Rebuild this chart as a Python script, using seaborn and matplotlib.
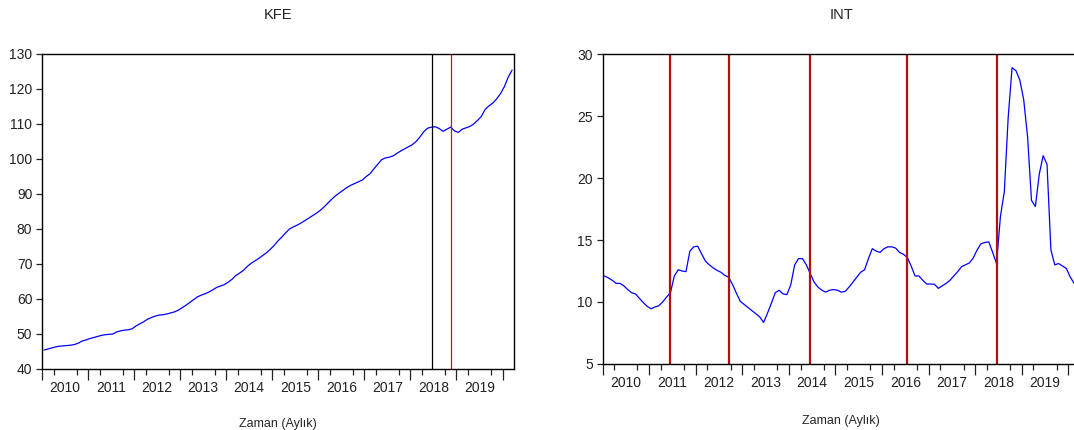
import numpy as np
import pandas as pd
import matplotlib
matplotlib.use('Agg')
import matplotlib.pyplot as plt
import seaborn as sns

# aylık veriler: 2010-01 .. 2020-03
kfe = [45.4, 45.7, 46.0, 46.3, 46.5, 46.6, 46.7, 46.8, 47.0, 47.4, 48.0, 48.3,
       48.7, 49.0, 49.3, 49.6, 49.8, 49.9, 50.0, 50.6, 50.9, 51.1, 51.2, 51.5,
       52.3, 52.9, 53.5, 54.2, 54.7, 55.1, 55.4, 55.5, 55.7, 56.0, 56.3, 56.8,
       57.5, 58.2, 59.0, 59.8, 60.6, 61.1, 61.5, 62.0, 62.6, 63.3, 63.7, 64.1,
       64.8, 65.6, 66.7, 67.4, 68.2, 69.3, 70.2, 70.9, 71.6, 72.4, 73.2, 74.2,
       75.3, 76.6, 77.7, 78.9, 80.0, 80.6, 81.1, 81.7, 82.4, 83.1, 83.8, 84.5,
       85.3, 86.3, 87.4, 88.5, 89.5, 90.3, 91.1, 91.9, 92.5, 93.0, 93.5, 94.0,
       95.0, 95.8, 97.2, 98.5, 99.8, 100.3, 100.5, 100.9, 101.6, 102.3, 102.9, 103.5,
       104.1, 105.0, 106.3, 107.8, 108.8, 109.1, 109.2, 108.7, 107.9, 108.5, 109.1, 108.0,
       107.6, 108.5, 108.9, 109.3, 110.0, 111.0, 112.2, 114.2, 115.2, 116.0, 117.2, 118.7,
       120.7, 123.4, 125.4]

faiz = [12.1, 11.95, 11.75, 11.5, 11.5, 11.3, 11.0, 10.75, 10.65, 10.3, 9.95, 9.65,
        9.45, 9.6, 9.7, 10.0, 10.4, 10.75, 12.1, 12.6, 12.5, 12.45, 14.1, 14.45,
        14.5, 13.9, 13.3, 13.0, 12.75, 12.55, 12.4, 12.15, 12.0, 11.4, 10.7, 10.05,
        9.8, 9.55, 9.3, 9.05, 8.8, 8.35, 9.1, 9.9, 10.75, 10.95, 10.65, 10.6,
        11.4, 13.0, 13.5, 13.5, 13.0, 12.3, 11.6, 11.2, 10.95, 10.8, 10.95, 11.0,
        10.95, 10.8, 10.85, 11.2, 11.6, 12.0, 12.4, 12.6, 13.5, 14.3, 14.1, 14.0,
        14.3, 14.45, 14.45, 14.35, 14.0, 13.85, 13.6, 12.9, 12.1, 12.1, 11.75, 11.45,
        11.45, 11.43, 11.1, 11.3, 11.5, 11.75, 12.1, 12.45, 12.85, 13.0, 13.15, 13.55,
        14.2, 14.7, 14.8, 14.85, 14.0, 13.1, 16.9, 18.9, 24.9, 28.9, 28.65, 27.9,
        26.3, 23.3, 18.2, 17.7, 20.3, 21.8, 21.1, 14.2, 13.0, 13.1, 12.9, 12.7,
        12.0, 11.5, 11.2]

yillar = list(range(2010, 2020))
kfe_kirilma_siyah = ['2018-06']
kfe_kirilma_kirmizi = ['2018-11']
faiz_kirilma = ['2011-06', '2012-09', '2014-06', '2016-07', '2018-06']

tarih = pd.period_range('2010-01', periods=len(kfe), freq='M')


def konum(p):
    p = pd.Period(p, freq='M')
    return p.year + (p.month - 0.5) / 12


df = pd.DataFrame({'t': [konum(p) for p in tarih], 'KFE': kfe, 'INT': faiz})

sns.set_style('ticks')
plt.rcParams['font.family'] = ['Liberation Sans', 'DejaVu Sans']
plt.rcParams['text.color'] = '#222222'
plt.rcParams['xtick.color'] = '#222222'
plt.rcParams['ytick.color'] = '#222222'

fig = plt.figure(figsize=(10.74, 4.30), dpi=100)
ax1 = fig.add_axes([0.0391, 0.1419, 0.4395, 0.7326])
ax2 = fig.add_axes([0.561, 0.1535, 0.4446, 0.7209])


def eksen_duzenle(ax, ylim, ystep, label_y):
    ax.set_xlim(2010, 2020.25)
    ax.set_ylim(*ylim)
    ax.set_yticks(np.arange(ylim[0], ylim[1] + 0.1, ystep))
    ax.set_xticks([y + 0.5 for y in yillar], [str(y) for y in yillar])
    ax.set_xticks([y + q / 4 for y in yillar + [2020] for q in range(1, 4)
                   if y + q / 4 < 2020.25], minor=True)
    ax.tick_params(axis='x', which='major', length=0, pad=9, labelsize=10)
    ax.tick_params(axis='x', which='minor', length=4, width=0.9, direction='out')
    ax.tick_params(axis='y', length=4, width=0.9, pad=3, labelsize=10)
    sec = ax.secondary_xaxis('bottom')
    sec.set_xticks(yillar + [2020])
    sec.tick_params(length=8, width=0.9, labelbottom=False)
    sec.spines['bottom'].set_visible(False)
    for s in ax.spines.values():
        s.set_linewidth(1.0)
        s.set_color('black')
        s.set_visible(True)
    ax.set_xlabel('Zaman (Aylık)', fontsize=9)
    ax.xaxis.set_label_coords(0.5, label_y)
    ax.set_ylabel('')


sns.lineplot(data=df, x='t', y='KFE', ax=ax1, color='#0000ff', linewidth=0.9)
for d in kfe_kirilma_siyah:
    ax1.axvline(konum(d), color='black', linewidth=0.9)
for d in kfe_kirilma_kirmizi:
    ax1.axvline(konum(d), color='#ff0000', linewidth=0.9)
eksen_duzenle(ax1, (40, 130), 10, -0.155)
ax1.set_title('KFE', fontsize=10.5, pad=25)

sns.lineplot(data=df, x='t', y='INT', ax=ax2, color='#0000ff', linewidth=0.9)
for d in faiz_kirilma:
    ax2.axvline(konum(d), color='#b01010', linewidth=1.6)
eksen_duzenle(ax2, (5, 30), 5, -0.165)
ax2.set_title('INT', fontsize=10.5, pad=25)

fig.savefig('out.png', dpi=100)
